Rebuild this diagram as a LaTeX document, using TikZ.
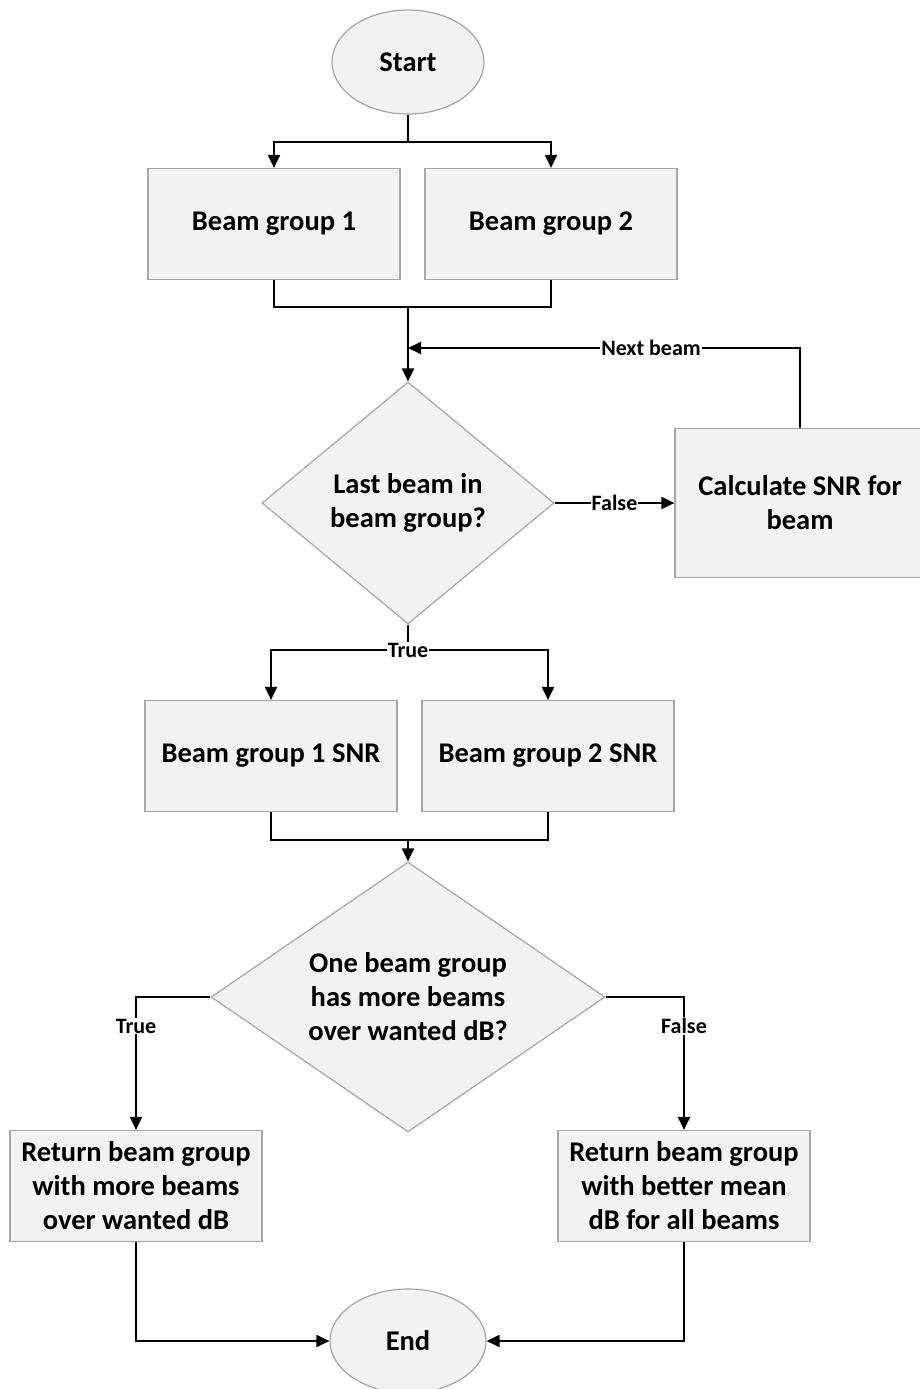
\documentclass[tikz,border=0pt]{standalone}
\usepackage{fontspec}
\setmainfont{Carlito}
\usetikzlibrary{shapes.geometric,arrows.meta,calc}
\definecolor{boxfill}{HTML}{F2F2F2}
\definecolor{boxline}{HTML}{A6A6A6}
\newcommand{\bigfont}{\fontsize{28.5}{34}\selectfont\bfseries}
\newcommand{\lblfont}{\fontsize{22}{26}\selectfont\bfseries}

\begin{document}
\begin{tikzpicture}[x=1pt,y=-1pt,
		proc/.style={rectangle,draw=boxline,fill=boxfill,line width=1.2pt,minimum width=252pt,minimum height=111pt,inner xsep=3pt,align=center,font=\bigfont},
		term/.style={ellipse,draw=boxline,fill=boxfill,line width=1.2pt,minimum width=152pt,minimum height=104pt,font=\bigfont},
		decide/.style={diamond,draw=boxline,fill=boxfill,line width=1.2pt,inner sep=0pt,align=center,font=\bigfont},
		conn/.style={line width=2pt},
		arr/.style={conn,-{Triangle[length=13pt,width=12pt]}},
		lbl/.style={fill=white,inner sep=1pt,font=\lblfont}]

		\useasboundingbox (0,0) rectangle (919,1389);

		\node[term] (start) at (408,62) {Start};
		\node[proc] (bg1) at (274,224) {Beam group 1};
		\node[proc] (bg2) at (551,224) {Beam group 2};
		\node[decide,minimum width=292pt,minimum height=242pt] (last) at (408,503) {Last beam in\\beam group?};
		\node[proc,minimum width=250pt,minimum height=149pt] (calc) at (800,503) {Calculate SNR for\\beam};
		\node[proc] (snr1) at (271,756) {Beam group 1 SNR};
		\node[proc] (snr2) at (548,756) {Beam group 2 SNR};
		\node[decide,aspect=1.5,minimum width=394pt,minimum height=270pt] (multi) at (408,997) {One beam group\\has more beams\\over wanted dB?};
		\node[proc] (retl) at (136,1186) {Return beam group\\with more beams\\over wanted dB};
		\node[proc] (retr) at (684,1186) {Return beam group\\with better mean\\dB for all beams};
		\node[term,minimum width=156pt] (end) at (408,1341) {End};

		\coordinate (split1) at (408,142);
		\coordinate (join1) at (408,307);
		\coordinate (loopin) at (408,348);
		\coordinate (split2) at (408,650);
		\coordinate (join2) at (408,840);

		% start into both groups
		\draw[conn] (start) -- (split1);
		\draw[arr] (split1) -| (bg1);
		\draw[arr] (split1) -| (bg2);

		% groups into the loop
		\draw[conn] (bg1) |- (join1);
		\draw[conn] (bg2) |- (join1);
		\draw[arr] (join1) -- (last);
		\draw[arr] (calc) |- node[lbl,pos=0.69]{Next beam} (loopin);
		\draw[arr] (last) -- node[lbl]{False} (calc);

		% true branch
		\draw[arr] (split2) -| (snr1);
		\draw[arr] (split2) -| (snr2);
		\draw[conn] (last) -- (split2) node[lbl]{True};

		\draw[conn] (snr1) |- (join2);
		\draw[conn] (snr2) |- (join2);
		\draw[arr] (join2) -- (multi);

		\draw[arr] (multi) -| node[lbl,pos=0.61]{True} (retl);
		\draw[arr] (multi) -| node[lbl,pos=0.61]{False} (retr);

		\draw[arr] (retl) |- (end);
		\draw[arr] (retr) |- (end);

\end{tikzpicture}
\end{document}
